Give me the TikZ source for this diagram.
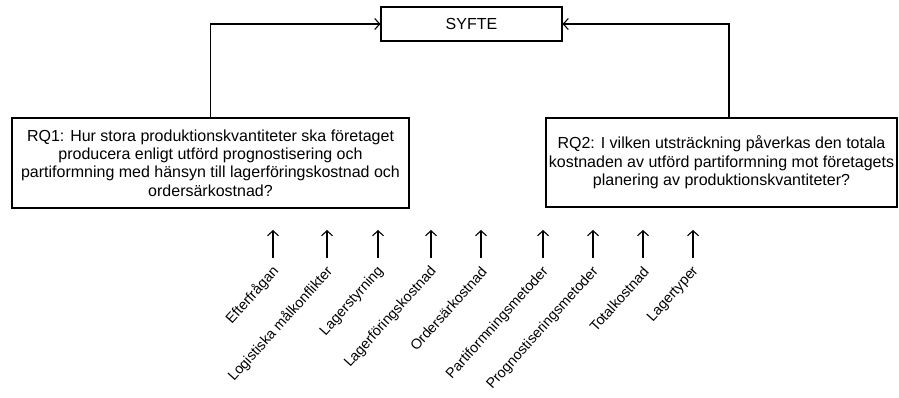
\documentclass[tikz,border=0pt]{standalone}
\usepackage{fontspec}
\setmainfont{Liberation Sans}
\usetikzlibrary{positioning,arrows.meta}

\begin{document}
\begin{tikzpicture}[x=1pt,y=-1pt,line width=1.1pt,
    >={Straight Barb[length=5pt,width=11pt]},
    font=\fontsize{16}{18.4}\selectfont,
    rqbox/.style={draw,align=center,inner sep=0pt},
    faktor/.style={rotate=48,anchor=east,inner sep=1pt,
      font=\fontsize{14.3}{16}\selectfont}]
   \useasboundingbox (0,0) rectangle (899,397);

   % syfte och forskningsfragor
   \node[rqbox,minimum width=181,minimum height=34] (syfte) at (471.5,24) {SYFTE};
   \node[rqbox,minimum width=397,minimum height=90] (rq1) at (210.5,163)
     {RQ1: Hur stora produktionskvantiteter  ska företaget\\
      producera enligt utförd prognostisering och\\
      partiformning med hänsyn till lagerföringskostnad och\\
      ordersärkostnad?};
   \node[rqbox,minimum width=351,minimum height=89] (rq2) at (721.5,162.5)
     {RQ2: I vilken utsträckning påverkas den totala\\
      kostnaden av utförd partiformning mot företagets\\
      planering av produktionskvantiteter?};

   \draw[->] (rq1.north) |- (syfte.west);
   \draw[->] ([xshift=7.5pt]rq2.north) |- (syfte.east);

   % faktorer
   \foreach \x/\namn [count=\i] in {273/Efterfrågan, 327/Logistiska målkonflikter,
       378/Lagerstyrning, 431/Lagerföringskostnad, 481/Ordersärkostnad,
       543/Partiformningsmetoder, 593/Prognostiseringsmetoder,
       643/Totalkostnad, 693/Lagertyper}
   {
     \coordinate (bas\i) at (\x,258);
     \coordinate (topp\i) at (\x,230);
     \draw[->] (bas\i) -- (topp\i);
     \node[faktor] (f\i) at (\x+4,268) {\namn};
   }
 \end{tikzpicture}
\end{document}
